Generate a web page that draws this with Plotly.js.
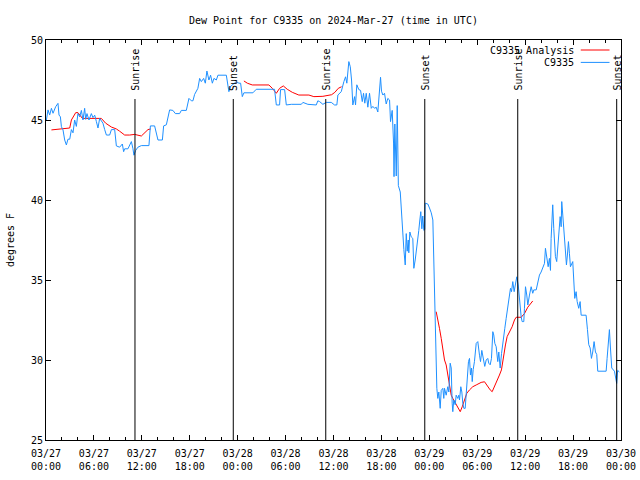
<!DOCTYPE html>
<html>
<head>
<meta charset="utf-8">
<script src="https://cdn.plot.ly/plotly-3.0.1.min.js"></script>
<style>html,body{margin:0;padding:0;background:#fff;}#chart{width:640px;height:480px;}</style>
</head>
<body>
<div id="chart"></div>
<script>
// Hours since 2024-03-27 00:00 UTC
var obsHours = [0.05,0.25,0.46,0.68,0.88,1.21,1.50,1.63,1.80,1.93,2.13,2.34,2.55,2.75,2.97,3.18,3.38,3.59,3.80,4.00,4.22,4.43,4.63,4.84,4.97,5.13,5.38,5.68,5.88,6.10,6.31,6.51,6.72,7.13,7.35,7.56,7.97,8.19,8.60,8.81,9.22,9.56,9.72,9.85,10.26,10.48,10.69,10.89,11.01,11.23,11.51,11.94,12.89,13.07,13.60,14.02,14.57,14.73,15.07,15.48,15.89,16.20,16.73,16.95,17.57,17.90,18.20,18.40,18.61,19.02,19.24,19.45,19.74,19.95,20.15,20.40,20.61,20.83,21.03,21.33,21.53,22.58,22.70,22.90,23.12,23.40,23.83,24.16,24.37,24.58,24.78,25.91,26.33,28.62,28.84,29.25,29.37,29.88,30.09,30.71,31.97,32.17,32.59,32.79,33.84,34.04,34.26,34.67,35.09,35.72,36.13,36.42,36.55,36.97,37.30,37.51,37.67,37.92,38.10,38.26,38.42,38.64,38.76,38.92,39.17,39.39,39.60,39.76,39.92,40.10,40.30,40.51,40.73,40.93,41.14,41.35,41.55,41.76,41.89,42.01,42.18,42.39,42.60,42.80,43.02,43.14,43.35,43.52,43.58,43.68,43.86,43.98,44.06,44.12,44.36,44.48,44.68,44.81,44.98,45.11,45.23,45.36,45.43,45.56,45.73,45.93,46.06,46.23,46.43,46.68,46.81,46.93,47.06,47.18,47.31,47.43,47.48,47.81,48.02,48.24,48.44,48.56,48.65,48.77,48.86,48.94,49.06,49.19,49.36,49.49,49.69,49.81,49.90,50.11,50.31,50.44,50.61,50.74,50.86,50.94,51.06,51.24,51.36,51.56,51.69,51.78,51.94,52.07,52.19,52.32,52.49,52.62,52.74,52.90,53.03,53.15,53.28,53.37,53.49,53.65,53.87,54.07,54.28,54.41,54.57,54.78,54.94,55.12,55.32,55.44,55.62,55.78,55.95,56.07,56.20,56.37,56.57,56.70,56.87,57.04,57.20,57.32,57.45,57.62,57.75,57.91,58.04,58.16,58.29,58.45,58.62,58.79,58.95,59.13,59.25,59.37,59.50,59.62,59.83,59.91,60.04,60.20,60.33,60.54,60.75,60.95,61.08,61.38,61.58,61.79,62.00,62.20,62.42,62.54,62.70,62.88,63.04,63.17,63.25,63.38,63.45,63.58,63.67,63.79,63.95,64.08,64.21,64.38,64.51,64.58,64.71,64.92,65.04,65.17,65.29,65.42,65.54,65.67,65.96,66.05,66.21,66.38,66.51,66.71,66.88,67.01,67.63,67.80,67.96,68.14,68.30,68.46,68.63,68.80,68.96,69.09,70.14,70.26,70.43,70.55,70.68,70.84,71.18,71.39,71.46,71.58,71.80];
var obsValues = [45.0,45.63,45.31,45.73,45.42,45.83,46.04,45.31,45.2,44.58,44.38,43.75,43.44,43.8,43.8,44.4,44.2,45.0,44.6,45.4,45.2,45.6,45.0,45.73,45.04,45.4,45.0,45.4,45.15,45.3,44.9,44.5,45.1,44.8,44.4,44.06,44.06,44.4,44.4,43.38,43.3,43.5,43.02,43.2,43.2,43.4,43.65,43.2,42.8,43.1,43.3,43.4,43.4,44.63,44.63,43.75,43.75,44.63,44.7,45.63,45.6,45.4,45.4,45.6,45.6,46.35,46.2,46.2,46.6,46.98,47.6,47.4,47.6,47.3,48.06,47.5,47.8,47.3,47.6,47.5,47.8,47.8,47.3,46.77,47.1,47.2,47.4,47.3,47.3,46.46,46.7,46.7,46.92,46.92,45.94,45.94,46.9,46.9,45.94,45.98,45.98,46.1,46.05,45.98,45.94,46.2,46.15,45.98,46.1,46.1,45.94,45.94,46.56,46.77,47.4,47.7,47.3,48.65,48.33,47.5,45.94,46.46,45.94,47.2,46.9,46.85,46.15,46.67,46.05,46.67,45.8,46.67,45.73,45.85,45.73,45.8,45.5,46.67,47.67,46.8,46.56,46.67,46.0,46.35,46.25,44.9,45.6,43.56,41.46,44.75,41.5,45.9,42.2,40.9,40.5,39.27,37.94,36.9,35.94,37.9,36.8,37.5,36.7,38.0,37.7,37.6,35.73,36.25,36.98,38.1,38.75,39.27,38.2,39.0,38.1,38.15,39.8,39.75,39.5,39.2,38.75,36.0,35.0,33.0,29.9,28.23,27.6,28.0,26.98,28.1,28.23,27.6,28.23,27.8,28.33,28.0,29.8,29.5,27.3,26.77,27.5,27.2,27.8,27.6,27.8,27.5,28.33,28.0,27.3,26.98,26.98,27.8,28.33,29.9,30.1,29.06,29.5,28.65,29.4,29.9,31.04,31.15,30.3,29.9,30.6,29.9,29.6,30.0,30.1,29.8,29.7,30.1,31.77,31.56,31.04,30.83,29.9,30.5,29.5,30.4,31.15,31.56,31.98,32.6,33.0,33.44,33.85,34.48,34.27,34.9,34.27,34.69,35.2,34.69,34.06,33.1,32.7,32.4,32.4,33.23,34.58,34.06,33.44,34.06,34.58,34.17,34.38,34.38,34.9,35.31,35.5,35.83,36.04,36.98,36.35,35.83,36.35,35.6,37.6,39.06,39.7,38.23,37.2,36.46,36.15,36.98,38.02,38.96,38.33,39.9,39.06,37.6,36.67,35.94,36.56,37.4,36.67,35.83,36.15,34.9,33.85,34.27,33.65,33.23,33.65,32.8,32.8,31.9,30.96,30.75,30.1,30.5,31.15,30.5,30.35,29.3,29.3,30.1,31.15,31.9,30.75,29.5,29.3,28.85,28.54,29.35,29.25];

var anaHours = [0.68,1.30,1.71,2.34,2.97,3.18,3.72,4.00,4.56,6.93,7.47,8.19,8.81,9.22,9.85,10.48,11.10,11.94,12.35,12.77,13.10,18.0,24.78,25.21,25.83,27.91,28.34,28.84,29.25,29.71,30.21,30.84,31.66,32.92,33.54,34.67,35.76,36.17,36.60,37.01,42.0,48.86,49.06,49.27,49.49,49.69,49.90,50.11,50.31,50.53,50.74,50.94,51.28,51.56,51.87,52.12,52.40,52.69,53.03,53.44,53.87,54.49,54.91,55.32,55.62,55.87,56.16,56.45,56.78,57.03,57.28,57.53,57.74,58.04,58.37,58.66,58.87,59.50,59.91,60.33,60.75,60.95];
var anaValues = [44.38,44.42,44.45,44.5,44.5,45.0,45.46,45.46,45.1,45.1,44.8,44.56,44.44,44.3,44.06,44.06,44.1,44.0,44.2,44.4,44.44,null,47.44,47.3,47.19,47.19,46.98,46.67,46.98,47.13,46.92,46.73,46.56,46.56,46.46,46.48,46.58,46.73,46.98,47.08,null,33.02,32.6,31.98,31.35,30.63,30.0,29.69,29.06,28.44,27.8,27.6,27.29,26.98,26.77,27.08,27.5,27.92,28.13,28.33,28.44,28.6,28.64,28.33,28.13,28.02,28.33,28.65,29.06,29.38,30.3,30.94,31.46,31.77,32.08,32.5,32.67,32.67,32.9,33.3,33.6,33.69];

var sunHours = [11.14, 23.45, 35.03, 47.43, 59.07, 71.46];
var sunLabels = ["Sunrise", "Sunset", "Sunrise", "Sunset", "Sunrise", "Sunset"];

var startMs = Date.UTC(2024, 2, 27, 0, 0, 0);
function toDate(h) {
  return new Date(startMs + h * 3600000).toISOString().slice(0, 19).replace('T', ' ');
}

var FONT = "DejaVu Sans Mono, Liberation Mono, monospace";

var traces = [
  {x: anaHours.map(toDate), y: anaValues, type: 'scatter', mode: 'lines', name: 'C9335 Analysis',
   line: {color: '#ff0000', width: 1}, connectgaps: false, showlegend: false},
  {x: obsHours.map(toDate), y: obsValues, type: 'scatter', mode: 'lines', name: 'C9335',
   line: {color: '#1e90ff', width: 1}, showlegend: false}
];

var shapes = sunHours.map(function (h) {
  return {type: 'line', xref: 'x', yref: 'paper', x0: toDate(h), x1: toDate(h), y0: 0, y1: 0.8525,
          line: {color: '#000', width: 1}};
});
var annotations = sunHours.map(function (h, i) {
  return {x: toDate(h), xref: 'x', y: 0.868, yref: 'paper', text: sunLabels[i], showarrow: false,
          textangle: -90, xanchor: 'center', yanchor: 'bottom', xshift: 1,
          font: {family: FONT, size: 10, color: '#000'}};
});

// Legend drawn gnuplot style (text left of sample)
var legendNames = ['C9335 Analysis', 'C9335'];
var legendColors = ['#ff0000', '#1e90ff'];
var legendY = [0.975, 0.944];
legendNames.forEach(function (n, i) {
  annotations.push({x: 0.921, xref: 'paper', y: legendY[i], yref: 'paper', text: n, showarrow: false,
                    xanchor: 'right', yanchor: 'middle', font: {family: FONT, size: 10, color: '#000'}});
  shapes.push({type: 'line', xref: 'paper', yref: 'paper', x0: 0.930, x1: 0.980, y0: legendY[i], y1: legendY[i],
               line: {color: legendColors[i], width: 1}});
});

var layout = {
  width: 640, height: 480,
  margin: {l: 46, r: 19, t: 40, b: 40},
  paper_bgcolor: '#fff', plot_bgcolor: '#fff',
  font: {family: FONT, size: 10, color: '#000'},
  title: {text: 'Dew Point for C9335 on 2024-Mar-27 (time in UTC)', x: 0.521, xanchor: 'center', y: 0.958, yanchor: 'middle',
          font: {family: FONT, size: 10, color: '#000'}},
  xaxis: {type: 'date', range: [toDate(0), toDate(72)], tick0: toDate(0), dtick: 21600000,
          tickformat: '%m/%d<br>%H:%M', ticks: 'inside', ticklen: 5, tickcolor: '#000', ticklabelstandoff: 4,
          showline: true, linecolor: '#000', linewidth: 1, mirror: 'allticks', showgrid: false, zeroline: false,
          minor: {dtick: 7200000, ticks: 'inside', ticklen: 3, tickcolor: '#000', showgrid: false},
          tickfont: {family: FONT, size: 10, color: '#000'}},
  yaxis: {range: [25, 50], dtick: 5, ticks: 'inside', ticklen: 5, tickcolor: '#000',
          showline: true, linecolor: '#000', linewidth: 1, mirror: 'allticks', showgrid: false, zeroline: false,
          title: {text: 'degrees F', font: {family: FONT, size: 10, color: '#000'}, standoff: 14},
          tickfont: {family: FONT, size: 10, color: '#000'}},
  shapes: shapes,
  annotations: annotations,
  showlegend: false
};

Plotly.newPlot('chart', traces, layout, {displayModeBar: false, staticPlot: true});
</script>
</body>
</html>
